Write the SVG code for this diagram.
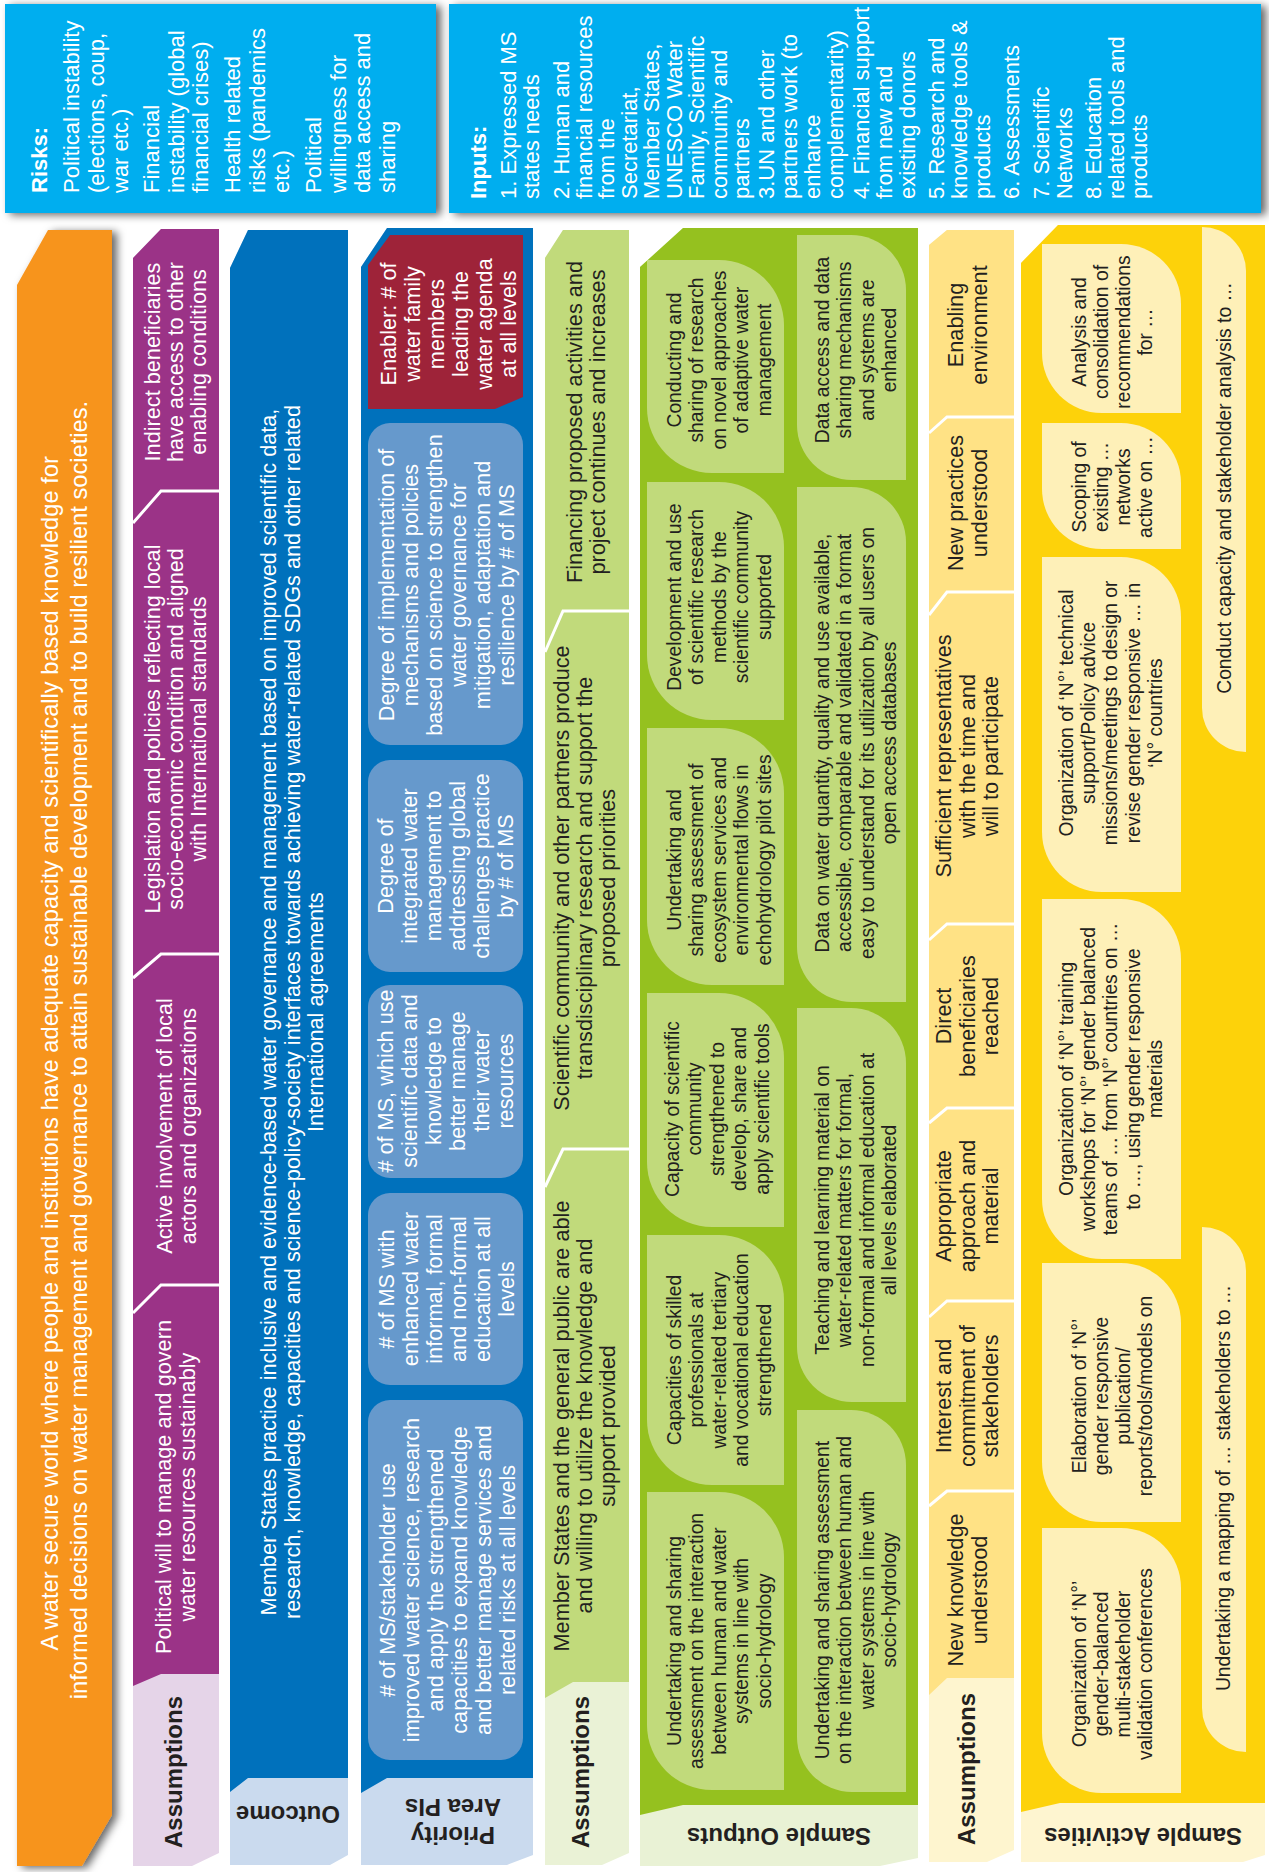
<svg xmlns="http://www.w3.org/2000/svg" width="1269" height="1872" viewBox="0 0 1269 1872">
<defs>
<filter id="sh" x="-20%" y="-5%" width="140%" height="112%"><feDropShadow dx="5" dy="2" stdDeviation="4" flood-color="#000" flood-opacity="0.6"/></filter>
<style>
text{font-family:'Liberation Sans',Arial,sans-serif}
.w{fill:#fff;font-size:21.7px}
.wb{fill:#fff;font-size:22px}
.d{fill:#231f20;font-size:21.7px}
.s{fill:#231f20;font-size:19.3px}
.lab{fill:#231f20;font-size:24px;font-weight:bold}
.sep{fill:none;stroke:#fff;stroke-width:3}
.pi{fill:#6699cc}
.ob{fill:#c1da7b}
.ab{fill:#fef0b8}
</style>
</defs>
<rect width="1269" height="1872" fill="#fff"/>

<g id="risks">
<rect x="5" y="4" width="431" height="209" fill="#00aeef" filter="url(#sh)"/>
<text class="wb" transform="translate(47,193) rotate(-90)">
<tspan x="0" y="0" font-weight="bold">Risks:</tspan>
<tspan x="0" y="32">Political instability</tspan>
<tspan x="0" y="56.5">(elections, coup,</tspan>
<tspan x="0" y="81">war etc.)</tspan>
<tspan x="0" y="112">Financial</tspan>
<tspan x="0" y="136.5">instability (global</tspan>
<tspan x="0" y="161">financial crises)</tspan>
<tspan x="0" y="193">Health related</tspan>
<tspan x="0" y="217.5">risks (pandemics</tspan>
<tspan x="0" y="242">etc.)</tspan>
<tspan x="0" y="274">Political</tspan>
<tspan x="0" y="298.5">willingness for</tspan>
<tspan x="0" y="323">data access and</tspan>
<tspan x="0" y="347.5">sharing</tspan>
</text>
</g>

<g id="inputs">
<rect x="449" y="4" width="812" height="209" fill="#00aeef" filter="url(#sh)"/>
<text class="wb" transform="translate(486,199) rotate(-90)">
<tspan x="0" y="0" font-weight="bold">Inputs:</tspan>
<tspan x="0" y="30">1. Expressed MS</tspan>
<tspan x="0" y="53">states needs</tspan>
<tspan x="0" y="83">2. Human and</tspan>
<tspan x="0" y="105.5">financial resources</tspan>
<tspan x="0" y="128">from the</tspan>
<tspan x="0" y="150.5">Secretariat,</tspan>
<tspan x="0" y="173">Member States,</tspan>
<tspan x="0" y="195.5">UNESCO Water</tspan>
<tspan x="0" y="218">Family, Scientific</tspan>
<tspan x="0" y="240.5">community and</tspan>
<tspan x="0" y="263">partners</tspan>
<tspan x="0" y="288">3.UN and other</tspan>
<tspan x="0" y="311">partners work (to</tspan>
<tspan x="0" y="334">enhance</tspan>
<tspan x="0" y="357">complementarity)</tspan>
<tspan x="0" y="383">4. Financial support</tspan>
<tspan x="0" y="406">from new and</tspan>
<tspan x="0" y="429">existing donors</tspan>
<tspan x="0" y="458">5. Research and</tspan>
<tspan x="0" y="481">knowledge tools &amp;</tspan>
<tspan x="0" y="504">products</tspan>
<tspan x="0" y="533">6. Assessments</tspan>
<tspan x="0" y="563">7. Scientific</tspan>
<tspan x="0" y="586">Networks</tspan>
<tspan x="0" y="615">8. Education</tspan>
<tspan x="0" y="638">related tools and</tspan>
<tspan x="0" y="661">products</tspan>
</text>
</g>

<g id="goal">
<polygon points="48,230 112,230 112,1815 82,1866 17,1866 17,285" fill="#f7941d" filter="url(#sh)"/>
<text fill="#fff" font-size="23.7" text-anchor="middle" transform="translate(58,1050) rotate(-90)">
<tspan x="0" y="0">A water secure world where people and institutions have adequate capacity and scientifically based knowledge for</tspan>
<tspan x="0" y="29">informed decisions on water management and governance to attain sustainable development and to build resilient societies.</tspan>
</text>
</g>

<g id="assumptions-1">
<polygon points="161,229 219,229 219,1853 192,1866 133,1866 133,258" fill="#e5d4e8"/>
<polygon points="161,229 219,229 219,1674 161,1674 133,1686 133,258" fill="#9b3387"/>
<polyline class="sep" points="219,491 161,491 133,523"/>
<polyline class="sep" points="219,954 161,954 133,978"/>
<polyline class="sep" points="219,1285 161,1285 133,1313"/>
<text class="w" text-anchor="middle" transform="translate(160,362) rotate(-90)"><tspan x="0" y="0">Indirect beneficiaries</tspan><tspan x="0" y="23">have access to other</tspan><tspan x="0" y="46">enabling conditions</tspan></text>
<text class="w" text-anchor="middle" transform="translate(160,729) rotate(-90)"><tspan x="0" y="0">Legislation and policies reflecting local</tspan><tspan x="0" y="23">socio-economic condition and aligned</tspan><tspan x="0" y="46">with International standards</tspan></text>
<text class="w" text-anchor="middle" transform="translate(172,1126) rotate(-90)"><tspan x="0" y="0">Active involvement of local</tspan><tspan x="0" y="23.5">actors and organizations</tspan></text>
<text class="w" text-anchor="middle" transform="translate(171,1487) rotate(-90)"><tspan x="0" y="0">Political will to manage and govern</tspan><tspan x="0" y="23.5">water resources sustainably</tspan></text>
<text class="lab" text-anchor="middle" transform="translate(182,1772) rotate(-90)">Assumptions</text>
</g>

<g id="outcome">
<polygon points="248,230 348,230 348,1855 330,1865 230,1865 230,268" fill="#cadaee"/>
<polygon points="248,230 348,230 348,1778 248,1778 230,1792 230,268" fill="#0071bc"/>
<text class="w" text-anchor="middle" transform="translate(276,1012) rotate(-90)"><tspan x="0" y="0">Member States practice inclusive and evidence-based water governance and management based on improved scientific data,</tspan><tspan x="0" y="23.5">research, knowledge, capacities and science-policy-society interfaces towards achieving water-related SDGs and other related</tspan><tspan x="0" y="47">International agreements</tspan></text>
<text class="lab" text-anchor="middle" transform="translate(288,1806) rotate(180)">Outcome</text>
</g>

<g id="priority-area-pis">
<polygon points="387,228 533,228 533,1855 507,1865 361,1865 361,267" fill="#cadaee"/>
<polygon points="387,228 533,228 533,1778 387,1778 361,1793 361,267" fill="#0071bc"/>
<polygon points="390,235 523,235 523,397 495,409 368,409 368,265" fill="#9e2339"/>
<text class="w" text-anchor="middle" transform="translate(396,324) rotate(-90)"><tspan x="0" y="0">Enabler: # of</tspan><tspan x="0" y="24">water family</tspan><tspan x="0" y="48">members</tspan><tspan x="0" y="72">leading the</tspan><tspan x="0" y="96">water agenda</tspan><tspan x="0" y="120">at all levels</tspan></text>
<rect class="pi" x="368" y="423" width="155" height="322" rx="22"/>
<text class="w" text-anchor="middle" transform="translate(394,585) rotate(-90)"><tspan x="0" y="0">Degree of implementation of</tspan><tspan x="0" y="24">mechanisms and policies</tspan><tspan x="0" y="48">based on science to strengthen</tspan><tspan x="0" y="72">water governance for</tspan><tspan x="0" y="96">mitigation, adaptation and</tspan><tspan x="0" y="120">resilience by # of MS</tspan></text>
<rect class="pi" x="368" y="760" width="155" height="212" rx="22"/>
<text class="w" text-anchor="middle" transform="translate(393,866) rotate(-90)"><tspan x="0" y="0">Degree of</tspan><tspan x="0" y="24">integrated water</tspan><tspan x="0" y="48">management to</tspan><tspan x="0" y="72">addressing global</tspan><tspan x="0" y="96">challenges practice</tspan><tspan x="0" y="120">by # of MS</tspan></text>
<rect class="pi" x="368" y="985" width="155" height="193" rx="22"/>
<text class="w" text-anchor="middle" transform="translate(393,1081) rotate(-90)"><tspan x="0" y="0"># of MS, which use</tspan><tspan x="0" y="24">scientific data and</tspan><tspan x="0" y="48">knowledge to</tspan><tspan x="0" y="72">better manage</tspan><tspan x="0" y="96">their water</tspan><tspan x="0" y="120">resources</tspan></text>
<rect class="pi" x="368" y="1193" width="155" height="192" rx="22"/>
<text class="w" text-anchor="middle" transform="translate(394,1289) rotate(-90)"><tspan x="0" y="0"># of MS with</tspan><tspan x="0" y="24">enhanced water</tspan><tspan x="0" y="48">informal, formal</tspan><tspan x="0" y="72">and non-formal</tspan><tspan x="0" y="96">education at all</tspan><tspan x="0" y="120">levels</tspan></text>
<rect class="pi" x="368" y="1400" width="155" height="360" rx="22"/>
<text class="w" text-anchor="middle" transform="translate(395,1580) rotate(-90)"><tspan x="0" y="0"># of MS/stakeholder use</tspan><tspan x="0" y="24">improved water science, research</tspan><tspan x="0" y="48">and apply the strengthened</tspan><tspan x="0" y="72">capacities to expand knowledge</tspan><tspan x="0" y="96">and better manage services and</tspan><tspan x="0" y="120">related risks at all levels</tspan></text>
<text class="lab" text-anchor="middle" transform="translate(453,1827) rotate(180)"><tspan x="0" y="0">Priority</tspan><tspan x="0" y="28">Area PIs</tspan></text>
</g>

<g id="assumptions-2">
<polygon points="563,230 629,230 629,1853 602,1865 545,1865 545,258" fill="#eaf2d6"/>
<polygon points="563,230 629,230 629,1682 573,1682 545,1698 545,258" fill="#c1da7b"/>
<polyline class="sep" points="629,611 563,611 545,652"/>
<polyline class="sep" points="629,1149 563,1149 545,1187"/>
<text class="d" text-anchor="middle" transform="translate(582,422) rotate(-90)"><tspan x="0" y="0">Financing proposed activities and</tspan><tspan x="0" y="23">project continues and increases</tspan></text>
<text class="d" text-anchor="middle" transform="translate(569,878) rotate(-90)"><tspan x="0" y="0">Scientific community and other partners produce</tspan><tspan x="0" y="23">transdisciplinary research and support the</tspan><tspan x="0" y="46">proposed priorities</tspan></text>
<text class="d" text-anchor="middle" transform="translate(569,1426) rotate(-90)"><tspan x="0" y="0">Member States and the general public are able</tspan><tspan x="0" y="23">and willing to utilize the knowledge and</tspan><tspan x="0" y="46">support provided</tspan></text>
<text class="lab" text-anchor="middle" transform="translate(589,1772) rotate(-90)">Assumptions</text>
</g>

<g id="sample-outputs">
<polygon points="683,228 918,228 918,1858 880,1866 640,1866 640,267" fill="#e9f2d5"/>
<polygon points="683,228 918,228 918,1805 683,1805 640,1815 640,267" fill="#95c11f"/>
<path class="ob" d="M647,260 H719 A65,65 0 0 1 784,325 V473 H712 A65,65 0 0 1 647,408 Z"/>
<path class="ob" d="M647,482 H719 A65,65 0 0 1 784,547 V720 H712 A65,65 0 0 1 647,655 Z"/>
<path class="ob" d="M647,728 H719 A65,65 0 0 1 784,793 V985 H712 A65,65 0 0 1 647,920 Z"/>
<path class="ob" d="M647,993 H719 A65,65 0 0 1 784,1058 V1227 H712 A65,65 0 0 1 647,1162 Z"/>
<path class="ob" d="M647,1235 H719 A65,65 0 0 1 784,1300 V1485 H712 A65,65 0 0 1 647,1420 Z"/>
<path class="ob" d="M647,1492 H719 A65,65 0 0 1 784,1557 V1790 H712 A65,65 0 0 1 647,1725 Z"/>
<path class="ob" d="M797,235 H851 A55,55 0 0 1 906,290 V480 H852 A55,55 0 0 1 797,425 Z"/>
<path class="ob" d="M797,487 H851 A55,55 0 0 1 906,542 V1002 H852 A55,55 0 0 1 797,947 Z"/>
<path class="ob" d="M797,1008 H851 A55,55 0 0 1 906,1063 V1402 H852 A55,55 0 0 1 797,1347 Z"/>
<path class="ob" d="M797,1410 H851 A55,55 0 0 1 906,1465 V1792 H852 A55,55 0 0 1 797,1737 Z"/>
<text class="s" text-anchor="middle" transform="translate(681,360) rotate(-90)"><tspan x="0" y="0">Conducting and</tspan><tspan x="0" y="22.4">sharing of research</tspan><tspan x="0" y="44.8">on novel approaches</tspan><tspan x="0" y="67.2">of adaptive water</tspan><tspan x="0" y="89.6">management</tspan></text>
<text class="s" text-anchor="middle" transform="translate(681,597) rotate(-90)"><tspan x="0" y="0">Development and use</tspan><tspan x="0" y="22.4">of scientific research</tspan><tspan x="0" y="44.8">methods by the</tspan><tspan x="0" y="67.2">scientific community</tspan><tspan x="0" y="89.6">supported</tspan></text>
<text class="s" text-anchor="middle" transform="translate(681,860) rotate(-90)"><tspan x="0" y="0">Undertaking and</tspan><tspan x="0" y="22.4">sharing assessment of</tspan><tspan x="0" y="44.8">ecosystem services and</tspan><tspan x="0" y="67.2">environmental flows in</tspan><tspan x="0" y="89.6">echohydrology pilot sites</tspan></text>
<text class="s" text-anchor="middle" transform="translate(679,1109) rotate(-90)"><tspan x="0" y="0">Capacity of scientific</tspan><tspan x="0" y="22.4">community</tspan><tspan x="0" y="44.8">strengthened to</tspan><tspan x="0" y="67.2">develop, share and</tspan><tspan x="0" y="89.6">apply scientific tools</tspan></text>
<text class="s" text-anchor="middle" transform="translate(681,1360) rotate(-90)"><tspan x="0" y="0">Capacities of skilled</tspan><tspan x="0" y="22.4">professionals at</tspan><tspan x="0" y="44.8">water-related tertiary</tspan><tspan x="0" y="67.2">and vocational education</tspan><tspan x="0" y="89.6">strengthened</tspan></text>
<text class="s" text-anchor="middle" transform="translate(681,1641) rotate(-90)"><tspan x="0" y="0">Undertaking and sharing</tspan><tspan x="0" y="22.4">assessment on the interaction</tspan><tspan x="0" y="44.8">between human and water</tspan><tspan x="0" y="67.2">systems in line with</tspan><tspan x="0" y="89.6">socio-hydrology</tspan></text>
<text class="s" text-anchor="middle" transform="translate(829,350) rotate(-90)"><tspan x="0" y="0">Data access and data</tspan><tspan x="0" y="22.4">sharing mechanisms</tspan><tspan x="0" y="44.8">and systems are</tspan><tspan x="0" y="67.2">enhanced</tspan></text>
<text class="s" text-anchor="middle" transform="translate(829,743) rotate(-90)"><tspan x="0" y="0">Data on water quantity, quality and use available,</tspan><tspan x="0" y="22.4">accessible, comparable and validated in a format</tspan><tspan x="0" y="44.8">easy to understand for its utilization by all users on</tspan><tspan x="0" y="67.2">open access databases</tspan></text>
<text class="s" text-anchor="middle" transform="translate(829,1210) rotate(-90)"><tspan x="0" y="0">Teaching and learning material on</tspan><tspan x="0" y="22.4">water-related matters for formal,</tspan><tspan x="0" y="44.8">non-formal and informal education at</tspan><tspan x="0" y="67.2">all levels elaborated</tspan></text>
<text class="s" text-anchor="middle" transform="translate(829,1600) rotate(-90)"><tspan x="0" y="0">Undertaking and sharing assessment</tspan><tspan x="0" y="22.4">on the interaction between human and</tspan><tspan x="0" y="44.8">water systems in line with</tspan><tspan x="0" y="67.2">socio-hydrology</tspan></text>
<text class="lab" text-anchor="middle" transform="translate(779,1828) rotate(180)">Sample Outputs</text>
</g>

<g id="assumptions-3">
<polygon points="947,230 1014,230 1014,1850 987,1862 929,1862 929,245" fill="#fef5cf"/>
<polygon points="947,230 1014,230 1014,1678 947,1678 929,1695 929,245" fill="#ffe285"/>
<polyline class="sep" points="1014,417 947,417 929,433"/>
<polyline class="sep" points="1014,592 947,592 929,615"/>
<polyline class="sep" points="1014,924 947,924 929,940"/>
<polyline class="sep" points="1014,1108 947,1108 929,1123"/>
<polyline class="sep" points="1014,1301 947,1301 929,1317"/>
<polyline class="sep" points="1014,1491 947,1491 929,1506"/>
<text class="d" text-anchor="middle" transform="translate(963,325) rotate(-90)"><tspan x="0" y="0">Enabling</tspan><tspan x="0" y="24">environment</tspan></text>
<text class="d" text-anchor="middle" transform="translate(963,503) rotate(-90)"><tspan x="0" y="0">New practices</tspan><tspan x="0" y="24">understood</tspan></text>
<text class="d" text-anchor="middle" transform="translate(951,756) rotate(-90)"><tspan x="0" y="0">Sufficient representatives</tspan><tspan x="0" y="23.5">with the time and</tspan><tspan x="0" y="47">will to participate</tspan></text>
<text class="d" text-anchor="middle" transform="translate(951,1016) rotate(-90)"><tspan x="0" y="0">Direct</tspan><tspan x="0" y="23.5">beneficiaries</tspan><tspan x="0" y="47">reached</tspan></text>
<text class="d" text-anchor="middle" transform="translate(951,1206) rotate(-90)"><tspan x="0" y="0">Appropriate</tspan><tspan x="0" y="23.5">approach and</tspan><tspan x="0" y="47">material</tspan></text>
<text class="d" text-anchor="middle" transform="translate(951,1396) rotate(-90)"><tspan x="0" y="0">Interest and</tspan><tspan x="0" y="23.5">commitment of</tspan><tspan x="0" y="47">stakeholders</tspan></text>
<text class="d" text-anchor="middle" transform="translate(963,1590) rotate(-90)"><tspan x="0" y="0">New knowledge</tspan><tspan x="0" y="24">understood</tspan></text>
<text class="lab" text-anchor="middle" transform="translate(975,1769) rotate(-90)">Assumptions</text>
</g>

<g id="sample-activities">
<polygon points="1058,225 1265,225 1265,1855 1243,1862 1021,1862 1021,263" fill="#fef5d0"/>
<polygon points="1058,225 1265,225 1265,1803 1060,1803 1021,1812 1021,263" fill="#fdd20a"/>
<path class="ab" d="M1042,244 H1121 A60,60 0 0 1 1181,304 V413 H1102 A60,60 0 0 1 1042,353 Z"/>
<path class="ab" d="M1042,423 H1121 A60,60 0 0 1 1181,483 V549 H1102 A60,60 0 0 1 1042,489 Z"/>
<path class="ab" d="M1042,557 H1121 A60,60 0 0 1 1181,617 V892 H1102 A60,60 0 0 1 1042,832 Z"/>
<path class="ab" d="M1042,899 H1121 A60,60 0 0 1 1181,959 V1259 H1102 A60,60 0 0 1 1042,1199 Z"/>
<path class="ab" d="M1042,1263 H1121 A60,60 0 0 1 1181,1323 V1522 H1102 A60,60 0 0 1 1042,1462 Z"/>
<path class="ab" d="M1042,1528 H1121 A60,60 0 0 1 1181,1588 V1793 H1102 A60,60 0 0 1 1042,1733 Z"/>
<path class="ab" d="M1202,227 A44,44 0 0 1 1246,271 V752 A44,44 0 0 1 1202,708 Z"/>
<path class="ab" d="M1202,1227 A44,44 0 0 1 1246,1271 V1752 A44,44 0 0 1 1202,1708 Z"/>
<text class="s" text-anchor="middle" transform="translate(1086,332) rotate(-90)"><tspan x="0" y="0">Analysis and</tspan><tspan x="0" y="22">consolidation of</tspan><tspan x="0" y="44">recommendations</tspan><tspan x="0" y="66">for …</tspan></text>
<text class="s" text-anchor="middle" transform="translate(1086,487) rotate(-90)"><tspan x="0" y="0">Scoping of</tspan><tspan x="0" y="22">existing …</tspan><tspan x="0" y="44">networks</tspan><tspan x="0" y="66">active on …</tspan></text>
<text class="s" text-anchor="middle" transform="translate(1073,713) rotate(-90)"><tspan x="0" y="0">Organization of ‘N°’ technical</tspan><tspan x="0" y="22.2">support/Policy advice</tspan><tspan x="0" y="44.4">missions/meetings to design or</tspan><tspan x="0" y="66.6">revise gender responsive … in</tspan><tspan x="0" y="88.8">‘N° countries</tspan></text>
<text class="s" text-anchor="middle" transform="translate(1073,1079) rotate(-90)"><tspan x="0" y="0">Organization of ‘N°’ training</tspan><tspan x="0" y="22.2">workshops for ‘N°’ gender balanced</tspan><tspan x="0" y="44.4">teams of … from ‘N°’ countries on …</tspan><tspan x="0" y="66.6">to …, using gender responsive</tspan><tspan x="0" y="88.8">materials</tspan></text>
<text class="s" text-anchor="middle" transform="translate(1086,1396) rotate(-90)"><tspan x="0" y="0">Elaboration of ‘N°’</tspan><tspan x="0" y="22">gender responsive</tspan><tspan x="0" y="44">publication/</tspan><tspan x="0" y="66">reports/tools/models on</tspan></text>
<text class="s" text-anchor="middle" transform="translate(1086,1664) rotate(-90)"><tspan x="0" y="0">Organization of ‘N°’</tspan><tspan x="0" y="22">gender-balanced</tspan><tspan x="0" y="44">multi-stakeholder</tspan><tspan x="0" y="66">validation conferences</tspan></text>
<text class="s" text-anchor="middle" transform="translate(1231,488) rotate(-90)">Conduct capacity and stakeholder analysis to …</text>
<text class="s" text-anchor="middle" transform="translate(1230,1488) rotate(-90)">Undertaking a mapping of … stakeholders to …</text>
<text class="lab" text-anchor="middle" transform="translate(1143,1828) rotate(180)">Sample Activities</text>
</g>
</svg>
